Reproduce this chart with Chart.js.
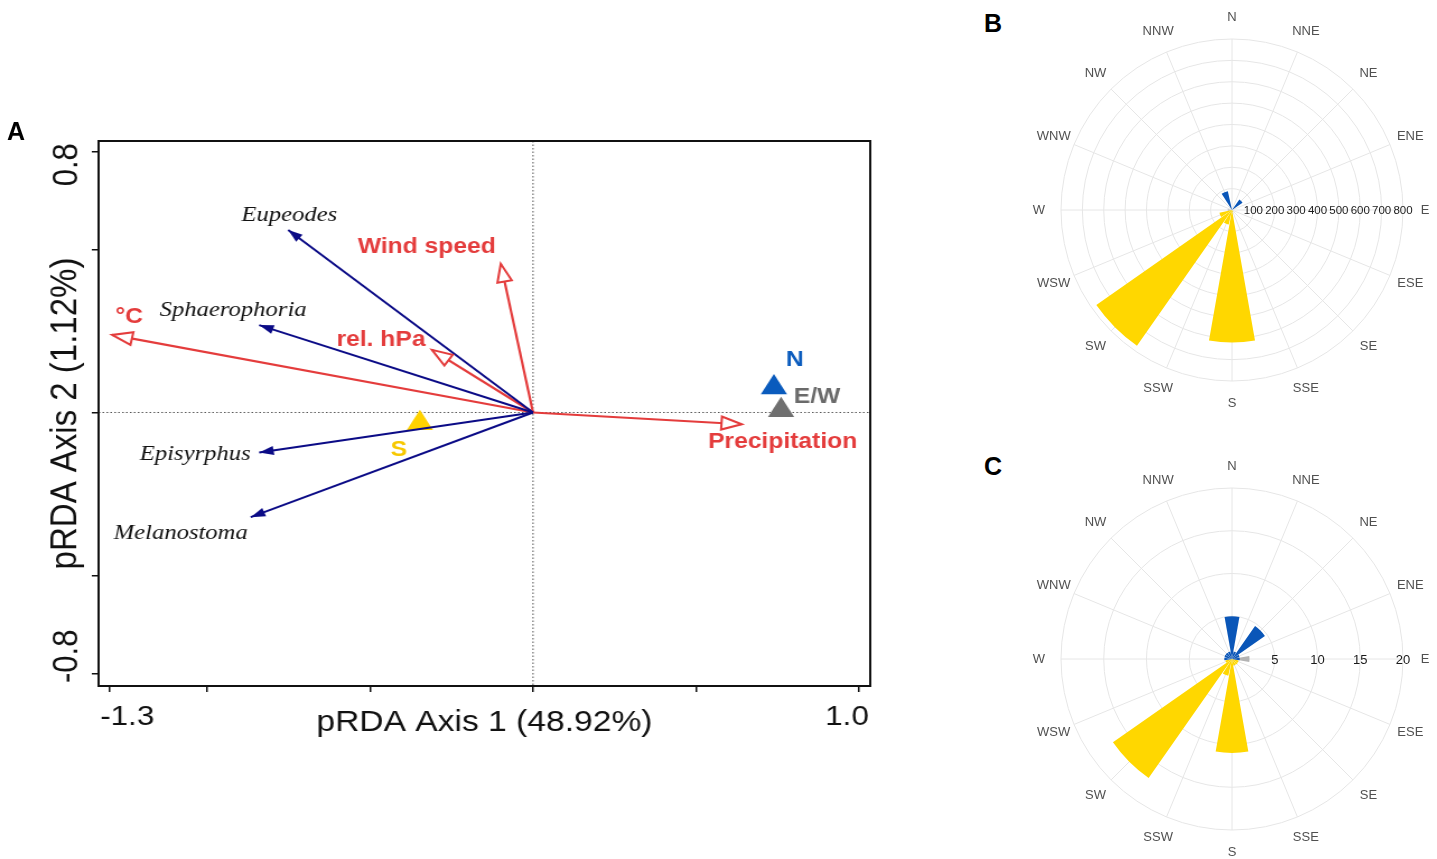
<!DOCTYPE html>
<html>
<head>
<meta charset="utf-8">
<script src="https://cdn.jsdelivr.net/npm/chart.js@4.4.1/dist/chart.umd.min.js"></script>
<style>
  html, body { margin: 0; padding: 0; background: #fff; overflow: hidden; }
  body { width: 1437px; height: 859px; position: relative; }
  canvas { position: absolute; }
  /* panel A is horizontally stretched in the original figure */
  #biplot { left: 0; top: 0; transform: scaleX(1.12); transform-origin: 0 0; }
  #roseB { left: 1012px; top: 0; }
  #roseC { left: 1012px; top: 450px; }
  .panel { position: absolute; font: bold 25px 'Liberation Sans', Arial, sans-serif; line-height: 1; color: #000; }
</style>
</head>
<body>
<canvas id="biplot" width="804" height="780"></canvas>
<canvas id="roseB" width="425" height="420"></canvas>
<canvas id="roseC" width="425" height="409"></canvas>
<div class="panel" style="left:7px;top:119px">A</div>
<div class="panel" style="left:984px;top:11px">B</div>
<div class="panel" style="left:984px;top:454px">C</div>
<script>
Chart.defaults.font.family = "'Liberation Sans', Arial, sans-serif";
Chart.defaults.color = '#111';

// ---------- panel A : pRDA biplot ----------
const speciesNames = ['Eupeodes', 'Sphaerophoria', 'Episyrphus', 'Melanostoma'];
const speciesX = [-0.751, -0.840, -0.840, -0.866];
const speciesY = [0.560, 0.268, -0.123, -0.321];

const envNames = ['Wind speed', '°C', 'rel. hPa', 'Precipitation'];
const envX = [-0.099, -1.291, -0.310, 0.640];
const envY = [0.456, 0.238, 0.192, -0.036];

const siteNames = ['N', 'E/W', 'S'];
const siteX = [0.739, 0.761, -0.347];
const siteY = [0.077, 0.007, -0.033];

const xTicks = [-1.3, -1.0, -0.5, 0, 0.5, 1.0];
const xTickLabels = ['-1.3', '', '', '', '', '1.0'];
const yTicks = [-0.8, -0.5, 0, 0.5, 0.8];
const yTickLabels = ['-0.8', '', '', '', '0.8'];

const SX = 1.12;
const NAVY = '#0b0b86', RED = '#e43c3c';
const siteColors = ['#0a5bbd', '#6f6f6f', '#ffd200'];
const siteTextColors = ['#0a5bbd', '#6a6a6a', '#f7c800'];

// label offsets from the arrow tip / point, in page px (x, y)
const speciesNudge = [[1, -15], [-26, -15], [-64, 2], [-70, 16]];
const envNudge = [[-74, -17], [17, -18], [-51, -10], [41, 18]];
const siteNudge = [[21, -27], [36, -13], [-21, 27]];
const xTickNudge = [18, 0, 0, 0, 0, -12];
const yTickNudge = [-17, 0, 0, 0, 13];

function drawHead(ctx, tip, ang, len, half, filled, color) {
  const bx = tip.x - len * Math.cos(ang), by = tip.y - len * Math.sin(ang);
  ctx.beginPath();
  ctx.moveTo(tip.x, tip.y);
  ctx.lineTo(bx + half * Math.sin(ang), by - half * Math.cos(ang));
  ctx.lineTo(bx - half * Math.sin(ang), by + half * Math.cos(ang));
  ctx.closePath();
  if (filled) {
    ctx.fillStyle = color;
    ctx.fill();
  } else {
    ctx.fillStyle = '#fff';
    ctx.fill();
    ctx.strokeStyle = color;
    ctx.lineWidth = 2;
    ctx.stroke();
  }
}

const biplotDecor = {
  id: 'biplotDecor',
  beforeDatasetsDraw(chart) {
    const {ctx, chartArea: a, scales: {x, y}} = chart;
    const x0 = x.getPixelForValue(0), y0 = y.getPixelForValue(0);
    ctx.save();
    ctx.strokeStyle = '#555';
    ctx.lineWidth = 1;
    ctx.setLineDash([1.5, 2]);
    ctx.beginPath();
    ctx.moveTo(x0, a.top); ctx.lineTo(x0, a.bottom);
    ctx.moveTo(a.left, y0); ctx.lineTo(a.right, y0);
    ctx.stroke();
    ctx.restore();
  },
  afterDatasetsDraw(chart) {
    const {ctx, chartArea: a, scales: {x, y}} = chart;
    ctx.save();
    // arrow heads
    chart.data.datasets.forEach((ds, i) => {
      if (!ds.head) return;
      const [p0, p1] = chart.getDatasetMeta(i).data;
      const ang = Math.atan2(p1.y - p0.y, p1.x - p0.x);
      if (ds.head === 'filled') drawHead(ctx, p1, ang, 13, 4.5, true, ds.borderColor);
      else drawHead(ctx, p1, ang, 18, 6.5, false, ds.borderColor);
    });
    // frame
    ctx.setLineDash([]);
    ctx.strokeStyle = '#111';
    ctx.lineWidth = 2;
    ctx.strokeRect(a.left, a.top, a.right - a.left, a.bottom - a.top);

    ctx.textAlign = 'center';
    ctx.textBaseline = 'middle';
    const put = (txt, px, py, n) => ctx.fillText(txt, px + n[0] / SX, py + n[1]);

    ctx.font = 'italic 22px "Liberation Serif", "Times New Roman", serif';
    ctx.fillStyle = '#111';
    speciesNames.forEach((n, i) => put(n, x.getPixelForValue(speciesX[i]), y.getPixelForValue(speciesY[i]), speciesNudge[i]));

    ctx.font = 'bold 22px "Liberation Sans", Arial, sans-serif';
    ctx.fillStyle = RED;
    envNames.forEach((n, i) => put(n, x.getPixelForValue(envX[i]), y.getPixelForValue(envY[i]), envNudge[i]));

    siteNames.forEach((n, i) => {
      ctx.fillStyle = siteTextColors[i];
      put(n, x.getPixelForValue(siteX[i]), y.getPixelForValue(siteY[i]), siteNudge[i]);
    });

    // end tick labels
    ctx.font = '28px "Liberation Sans", Arial, sans-serif';
    ctx.fillStyle = '#111';
    xTicks.forEach((v, i) => {
      if (xTickLabels[i]) ctx.fillText(xTickLabels[i], x.getPixelForValue(v) + xTickNudge[i] / SX, a.bottom + 31);
    });
    ctx.font = '31px "Liberation Sans", Arial, sans-serif';
    yTicks.forEach((v, i) => {
      if (!yTickLabels[i]) return;
      ctx.save();
      ctx.translate(a.left - 28, y.getPixelForValue(v) + yTickNudge[i]);
      ctx.rotate(-Math.PI / 2);
      ctx.fillText(yTickLabels[i], 0, 0);
      ctx.restore();
    });
    ctx.restore();
  }
};

const biplotSets = [
  ...speciesNames.map((n, i) => ({
    label: n, head: 'filled', showLine: true, pointRadius: 0,
    borderColor: NAVY, borderWidth: 2,
    data: [{x: 0, y: 0}, {x: speciesX[i], y: speciesY[i]}]
  })),
  ...envNames.map((n, i) => ({
    label: n, head: 'open', showLine: true, pointRadius: 0,
    borderColor: RED, borderWidth: 2.2,
    data: [{x: 0, y: 0}, {x: envX[i], y: envY[i]}]
  })),
  {
    label: 'sites', pointStyle: 'triangle', pointRadius: 13.5, borderWidth: 0,
    backgroundColor: siteColors,
    data: siteNames.map((n, i) => ({x: siteX[i], y: siteY[i]}))
  }
];

new Chart(document.getElementById('biplot'), {
  type: 'scatter',
  data: { datasets: biplotSets },
  options: {
    responsive: false,
    animation: false,
    layout: { padding: { left: 0, right: 27, top: 141, bottom: 34 } },
    plugins: { legend: { display: false }, tooltip: { enabled: false } },
    scales: {
      x: {
        type: 'linear', min: -1.3327, max: 1.0345,
        afterBuildTicks: s => { s.ticks = xTicks.map(value => ({ value })); },
        afterFit: s => { s.height = 60; },
        ticks: { display: false },
        grid: { drawOnChartArea: false, drawTicks: true, tickLength: 6, color: '#111', lineWidth: 1.5 },
        border: { color: '#111', width: 2 },
        title: { display: true, text: 'pRDA Axis 1 (48.92%)', font: { size: 30 }, color: '#111', padding: { top: 0, bottom: 5 } }
      },
      y: {
        type: 'linear', min: -0.839, max: 0.8328,
        afterBuildTicks: s => { s.ticks = yTicks.map(value => ({ value })); },
        afterFit: s => { s.width = 88; },
        ticks: { display: false },
        grid: { drawOnChartArea: false, drawTicks: true, tickLength: 6, color: '#111', lineWidth: 1.5 },
        border: { color: '#111', width: 2 },
        title: { display: true, text: 'pRDA Axis 2 (1.12%)', font: { size: 33 }, color: '#111', padding: { top: 39, bottom: 0 } }
      }
    }
  },
  plugins: [biplotDecor]
});

// ---------- panels B and C : wind roses ----------
const directions = ['N', 'NNE', 'NE', 'ENE', 'E', 'ESE', 'SE', 'SSE', 'S', 'SSW', 'SW', 'WSW', 'W', 'WNW', 'NW', 'NNW'];

const roseBTicks = [100, 200, 300, 400, 500, 600, 700, 800];
const roseBNorth = [0, 0, 60, 0, 0, 0, 0, 0, 0, 0, 0, 0, 0, 0, 0, 90];
const roseBSouth = [0, 0, 0, 0, 0, 0, 0, 10, 620, 70, 775, 60, 0, 0, 0, 0];
const roseBEastWest = [0, 0, 0, 0, 0, 0, 0, 0, 0, 0, 0, 0, 20, 0, 0, 0];

const roseCTicks = [5, 10, 15, 20];
const roseCNorth = [5.0, 0.9, 4.7, 0.9, 0.9, 0, 0, 0, 0, 0, 0, 0, 0.9, 0.9, 0.9, 0.9];
const roseCSouth = [0, 0, 0, 0, 0, 0.8, 0.8, 0.8, 11.0, 2.0, 17.0, 0.8, 0, 0, 0, 0];
const roseCEastWest = [0, 0, 0, 0, 2.05, 0, 0, 0, 0, 0, 0, 0, 0, 0, 0, 0];

const BLUE = '#0a56b8', YELLOW = '#ffd700', GREY = '#b3b3b3', GRID = '#e6e6e6';
const PETAL = 20, GAP = 2.5; // degrees, PETAL + GAP = 22.5

// petals are narrower than the sector: interleave empty gaps,
// N is split in two halves around the start angle
function petals(values) {
  const out = [values[0]];
  for (let i = 1; i < values.length; i++) out.push(0, values[i]);
  out.push(0, values[0]);
  return out;
}
function petalAngle(ctx) {
  const i = ctx.dataIndex, last = ctx.dataset.data.length - 1;
  if (i === 0 || i === last) return PETAL / 2;
  return i % 2 ? GAP : PETAL;
}

const roseText = {
  id: 'roseText',
  afterDraw(chart, args, opts) {
    const s = chart.scales.r, ctx = chart.ctx;
    ctx.save();
    ctx.textAlign = 'center';
    ctx.textBaseline = 'middle';
    ctx.font = '13px "Liberation Sans", Arial, sans-serif';
    ctx.fillStyle = '#505050';
    directions.forEach((d, i) => {
      const p = s.getPointPosition(i, s.drawingArea + 22);
      ctx.fillText(d, p.x, p.y);
    });
    ctx.font = opts.size + 'px "Liberation Sans", Arial, sans-serif';
    ctx.fillStyle = '#1a1a1a';
    opts.ticks.forEach(v => ctx.fillText(String(v), s.xCenter + s.getDistanceFromCenterForValue(v), s.yCenter + 1));
    ctx.restore();
  }
};

function rose(id, series, ticks, tickSize, pad) {
  return new Chart(document.getElementById(id), {
    type: 'polarArea',
    data: {
      labels: directions,
      datasets: [
        { label: 'N', data: petals(series[0]), backgroundColor: BLUE, borderWidth: 0, angle: petalAngle },
        { label: 'S', data: petals(series[1]), backgroundColor: YELLOW, borderWidth: 0, angle: petalAngle },
        { label: 'E/W', data: petals(series[2]), backgroundColor: GREY, borderWidth: 0, angle: petalAngle }
      ]
    },
    options: {
      responsive: false,
      animation: false,
      layout: { padding: pad },
      scales: {
        r: {
          min: 0, max: ticks[ticks.length - 1], startAngle: 0,
          ticks: { display: false, stepSize: ticks[0] },
          grid: { color: GRID, lineWidth: 1, circular: true },
          angleLines: { display: true, color: GRID, lineWidth: 1 },
          pointLabels: { display: false }
        }
      },
      plugins: {
        legend: { display: false },
        tooltip: { enabled: false },
        roseText: { ticks, size: tickSize }
      }
    },
    plugins: [roseText]
  });
}

rose('roseB', [roseBNorth, roseBSouth, roseBEastWest], roseBTicks, 11.5, { left: 49, right: 34, top: 39, bottom: 39 });
rose('roseC', [roseCNorth, roseCSouth, roseCEastWest], roseCTicks, 13, { left: 49, right: 34, top: 38, bottom: 29 });
</script>
</body>
</html>
